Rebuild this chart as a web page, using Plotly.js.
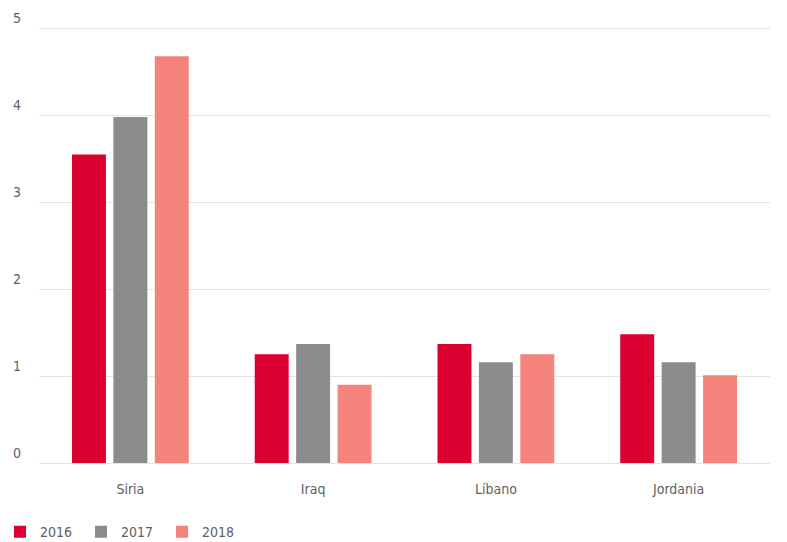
<!DOCTYPE html>
<html>
<head>
<meta charset="utf-8">
<script src="https://cdn.plot.ly/plotly-3.0.1.min.js"></script>
<style>html,body{margin:0;padding:0;background:#fff;}#chart{width:787px;height:542px;}</style>
</head>
<body>
<div id="chart"></div>
<script>
const categories = ["Siria", "Iraq", "Líbano", "Jordania"];
const values2016 = [3.55, 1.25, 1.37, 1.48];
const values2017 = [3.98, 1.37, 1.16, 1.16];
const values2018 = [4.68, 0.9, 1.25, 1.01];
const seriesNames = ["2016", "2017", "2018"];
const yTicks = [0, 1, 2, 3, 4, 5];

const colors = ["#dc0031", "#8c8c8c", "#f4847b"];
const fontFam = "'DejaVu Sans Condensed', 'Liberation Sans Narrow', Roboto, sans-serif";
const textColor = "#606060";

const traces = [values2016, values2017, values2018].map((v, i) => ({
  type: "bar",
  name: seriesNames[i],
  x: categories,
  y: v,
  marker: {color: colors[i], line: {width: 0}},
  hoverinfo: "x+y+name"
}));

const layout = {
  width: 787,
  height: 542,
  paper_bgcolor: "#ffffff",
  plot_bgcolor: "#ffffff",
  margin: {l: 39, r: 17, t: 24, b: 79, pad: 0},
  barmode: "group",
  bargap: 0.32,
  bargroupgap: 0.18,
  font: {family: fontFam, size: 14, color: textColor},
  xaxis: {
    type: "category",
    showgrid: false,
    showline: false,
    ticks: "",
    zeroline: false,
    ticklabelstandoff: 16,
    tickfont: {family: fontFam, size: 14, color: textColor}
  },
  yaxis: {
    range: [0, 5.05],
    tickvals: yTicks,
    ticktext: yTicks.map(String),
    showgrid: true,
    gridcolor: "#e4e4e4",
    gridwidth: 1,
    zeroline: true,
    zerolinecolor: "#e4e4e4",
    zerolinewidth: 1,
    showline: false,
    ticks: "",
    ticklabelshift: -10,
    ticklabelstandoff: 17,
    tickfont: {family: fontFam, size: 14, color: textColor}
  },
  showlegend: true,
  legend: {
    orientation: "h",
    xref: "container",
    yref: "container",
    x: -0.006,
    xanchor: "left",
    y: 0.018,
    yanchor: "middle",
    entrywidth: 36,
    font: {family: fontFam, size: 14, color: textColor},
    itemclick: false,
    itemdoubleclick: false
  }
};

Plotly.newPlot("chart", traces, layout, {displayModeBar: false, staticPlot: true});
</script>
</body>
</html>
